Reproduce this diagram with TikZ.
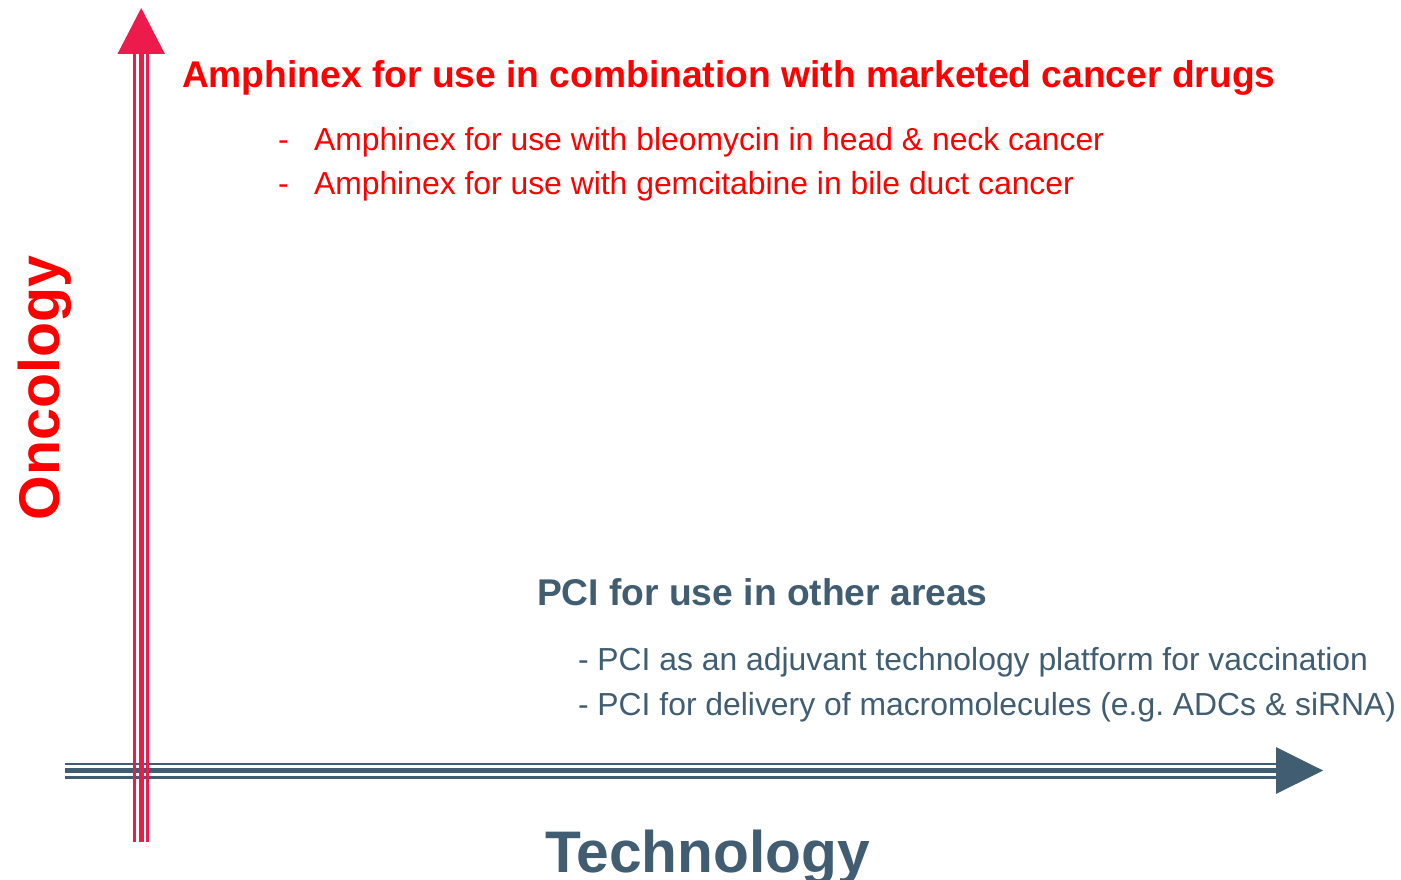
\documentclass[tikz,border=0pt]{standalone}
\usepackage{fontspec}
\setmainfont{Liberation Sans}
\frenchspacing
\definecolor{axisred}{RGB}{236,27,75}
\definecolor{textred}{RGB}{255,0,0}
\definecolor{slate}{RGB}{64,93,114}
\begin{document}
\begin{tikzpicture}[x=0.75pt,y=-0.75pt,
  txt/.style={anchor=base west,inner sep=0pt,outer sep=0pt},
  bodytxt/.style={txt,font=\fontsize{23.9}{29}\selectfont},
  thinline/.style={line width=2pt},
  thickline/.style={line width=3.75pt}]
\useasboundingbox (0,0) rectangle (1401,880);

% horizontal axis: triple shaft plus triangular head
\coordinate (hs) at (65,770.5);
\coordinate (he) at (1276,770.5);
\coordinate (ht) at (1323,770.5);
\begin{scope}[slate]
  \draw[thinline]  ([yshift=5.0pt]hs) -- ([yshift=5.0pt]he);
  \draw[thickline] (hs) -- (he);
  \draw[thinline]  ([yshift=-5.0pt]hs) -- ([yshift=-5.0pt]he);
  \fill (ht) -- ([yshift=17.6pt]he) -- ([yshift=-17.6pt]he) -- cycle;
\end{scope}

% vertical axis: triple shaft plus triangular head
\coordinate (vs) at (141.2,842);
\coordinate (ve) at (141.2,54);
\coordinate (vt) at (141.2,8);
\begin{scope}[axisred]
  \draw[thinline]  ([xshift=-4.8pt]vs) -- ([xshift=-4.8pt]ve);
  \draw[thickline] (vs) -- (ve);
  \draw[thinline]  ([xshift=4.8pt]vs) -- ([xshift=4.8pt]ve);
  \fill (vt) -- ([xshift=-17.8pt]ve) -- ([xshift=17.8pt]ve) -- cycle;
\end{scope}

% axis titles
\node[txt,rotate=90,text=textred,font=\fontsize{43}{50}\selectfont\bfseries] (onc) at (59,520) {Oncology};
\node[txt,text=slate,font=\fontsize{44}{52}\selectfont\bfseries] (tech) at (545,872) {Technology};

% oncology block
\node[txt,text=textred,font=\fontsize{27.9}{34}\selectfont\bfseries] (otitle) at (182,88) {Amphinex for use in combination with marketed cancer drugs};
\node[bodytxt,text=textred] (od1) at (278,150.5) {-};
\node[bodytxt,text=textred] (ob1) at (314,150.5) {Amphinex for use with bleomycin in head \& neck cancer};
\node[bodytxt,text=textred] (od2) at (278,195) {-};
\node[bodytxt,text=textred] (ob2) at (314,195) {Amphinex for use with gemcitabine in bile duct cancer};

% technology block
\node[txt,text=slate,font=\fontsize{27.9}{34}\selectfont\bfseries] (ttitle) at (537,605) {PCI for use in other areas};
\node[bodytxt,text=slate] (tb1) at (578,670) {- PCI as an adjuvant technology platform for vaccination};
\node[bodytxt,text=slate] (tb2) at (578,715) {- PCI for delivery of macromolecules (e.g. ADCs \& siRNA)};
\end{tikzpicture}
\end{document}
